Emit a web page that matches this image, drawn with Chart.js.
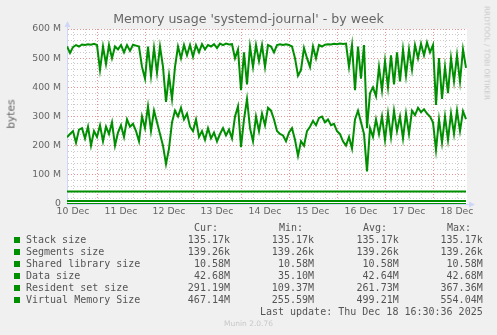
<!DOCTYPE html>
<html><head><meta charset="utf-8">
<script src="https://cdn.jsdelivr.net/npm/chart.js@4/dist/chart.umd.min.js"></script>
<style>
html,body{margin:0;padding:0;background:#f0f0f0;}
#wrap{position:relative;width:497px;height:335px;overflow:hidden;background:#f0f0f0;font-family:"DejaVu Sans",sans-serif;color:#666;}
#c{position:absolute;left:0;top:0;}
.t{position:absolute;white-space:pre;}
.mono{font-family:"DejaVu Sans Mono",monospace;font-size:10px;line-height:12px;color:#555;}
.sq{position:absolute;width:6px;height:6px;background:#008f00;}
</style></head>
<body><div id="wrap"><canvas id="c" width="497" height="335"></canvas>
<div class="t" style="left:0;width:497px;text-align:center;top:11px;font-size:12.6px;line-height:16px;">Memory usage 'systemd-journal' - by week</div>
<div class="t" style="left:10.5px;top:114px;font-size:10.7px;line-height:13px;transform:translate(-50%,-50%) rotate(-90deg);">bytes</div>
<div class="t" style="left:487px;top:52.5px;font-size:7.3px;line-height:9px;color:#c8c8c8;transform:translate(-50%,-50%) rotate(90deg);">RRDTOOL / TOBI OETIKER</div>
<div id="legend"></div>
<div class="t" style="left:0;width:497px;text-align:center;top:319px;font-size:7.5px;line-height:10px;color:#c8c8c8;">Munin 2.0.76</div>
</div>
<script>
// ---- data ----
const seriesNames = ['Stack size','Segments size','Shared library size','Data size','Resident set size','Virtual Memory Size'];
const curVals = ['135.17k','139.26k','10.58M','42.68M','291.19M','467.14M'];
const minVals = ['135.17k','139.26k','10.58M','35.10M','109.37M','255.59M'];
const avgVals = ['135.17k','139.26k','10.58M','42.64M','261.73M','499.21M'];
const maxVals = ['135.17k','139.26k','10.58M','42.68M','367.36M','554.04M'];
const lastUpdate = 'Last update: Thu Dec 18 16:30:36 2025';
const dayLabels = ['10 Dec','11 Dec','12 Dec','13 Dec','14 Dec','15 Dec','16 Dec','17 Dec','18 Dec'];
const yLabels = ['0','100 M','200 M','300 M','400 M','500 M','600 M'];

const startHour = 9;      // hours after 10 Dec 00:00
const endHour = 208.5;    // 18 Dec 16:30
const stepHours = 1.5;

const stackSize = 0.13517;      // M
const segmentsSize = 0.13926;   // M
const sharedLibSize = 10.58;    // M
const dataSize = 42.68;         // M

const vms = [
540,518,538,545,540,547,545,548,546,549,
545,460,540,480,545,500,540,530,545,520,
545,525,546,543,540,470,430,540,440,535,
450,540,470,350,440,360,470,540,500,545,
510,545,505,545,520,548,530,545,540,548,
535,550,545,550,547,548,500,530,390,520,
410,540,470,545,490,545,470,545,540,520,
545,548,545,548,545,540,500,440,460,535,
500,470,540,500,545,540,546,548,547,549,
548,550,549,550,470,545,390,540,430,545,
260,380,400,370,470,390,490,400,510,410,
520,420,530,440,530,460,545,500,550,510,
554,520,545,340,500,360,470,380,500,420,
510,420,530,467];

const rss = [
229,240,250,210,255,260,225,265,200,250,
230,270,215,265,240,280,200,245,270,230,
290,265,275,250,215,300,260,335,250,320,
280,240,200,137,190,280,320,300,330,290,
310,265,250,290,230,250,220,260,225,245,
215,240,260,235,255,225,300,335,195,290,
360,260,215,300,250,310,270,330,320,290,
250,240,235,215,245,260,220,165,215,200,
250,265,285,270,295,300,280,290,270,275,
250,240,215,200,230,190,290,320,280,240,
112,260,230,290,240,300,220,310,230,320,
250,300,225,310,240,320,305,330,315,325,
310,300,280,185,290,210,300,220,310,240,
320,250,318,291];

// ---- legend (HTML text) ----
const GREEN = '#008f00';
(function(){
  const lg = document.getElementById('legend');
  let h = '';
  const head = [['Cur:',194],['Min:',279],['Avg:',363],['Max:',447]];
  head.forEach(([t,l]) => { h += `<div class="t mono" style="left:${l}px;top:221.5px">${t}</div>`; });
  const cols = [[curVals,267],[minVals,183],[avgVals,98.3],[maxVals,14.3]];
  seriesNames.forEach((n,i) => {
    const cy = 239.5 + 12*i;
    h += `<div class="sq" style="left:14px;top:${cy-3}px"></div>`;
    h += `<div class="t mono" style="left:26px;top:${cy-6}px">${n}</div>`;
    cols.forEach(([arr,r]) => { h += `<div class="t mono" style="right:${r}px;top:${cy-6}px">${arr[i]}</div>`; });
  });
  h += `<div class="t mono" style="right:14.3px;top:305.5px">${lastUpdate}</div>`;
  lg.innerHTML = h;
})();

// ---- chart ----
const pts = arr => arr.map((v,i) => ({x: startHour + stepHours*i, y: v}));
const flat = v => [{x:startHour,y:v},{x:endHour,y:v}];

const RED = 'rgba(230,110,110,0.75)';
const GREY = 'rgba(190,190,190,0.8)';
const AXIS = '#CFD6F8';

const bgPlugin = {
  id:'bg',
  beforeDraw(chart){
    const {ctx, chartArea:a} = chart;
    ctx.save(); ctx.fillStyle = '#fff';
    ctx.fillRect(a.left, a.top, a.right-a.left, a.bottom-a.top);
    ctx.restore();
  },
  afterDraw(chart){
    const {ctx, chartArea:a} = chart;
    ctx.save();
    ctx.fillStyle = AXIS; ctx.strokeStyle = AXIS; ctx.lineWidth = 1;
    ctx.beginPath(); ctx.moveTo(a.left+0.5, a.top); ctx.lineTo(a.left+0.5, a.top-3); ctx.stroke();
    ctx.beginPath(); ctx.moveTo(a.left+0.5, a.top-8); ctx.lineTo(a.left-2.5, a.top-2); ctx.lineTo(a.left+3.5, a.top-2); ctx.closePath(); ctx.fill();
    ctx.beginPath(); ctx.moveTo(a.right, a.bottom+0.5); ctx.lineTo(a.right+2, a.bottom+0.5); ctx.stroke();
    ctx.beginPath(); ctx.moveTo(a.right+8, a.bottom+0.5); ctx.lineTo(a.right+2, a.bottom-2.5); ctx.lineTo(a.right+2, a.bottom+3.5); ctx.closePath(); ctx.fill();
    ctx.restore();
  }
};

const ds = (label, data) => ({label, data, borderColor: GREEN, backgroundColor: GREEN, borderWidth: 2, pointRadius: 0, tension: 0, fill: false});

new Chart(document.getElementById('c'), {
  type: 'line',
  data: { datasets: [
    ds(seriesNames[5], pts(vms)),
    ds(seriesNames[4], pts(rss)),
    ds(seriesNames[3], flat(dataSize)),
    ds(seriesNames[2], flat(sharedLibSize)),
    ds(seriesNames[1], flat(segmentsSize)),
    ds(seriesNames[0], flat(stackSize)),
  ]},
  options: {
    responsive: false, animation: false, devicePixelRatio: 1,
    layout: { padding: { left: 0, top: 29, right: 30, bottom: 111 } },
    plugins: { legend: {display:false}, title: {display:false}, tooltip: {enabled:false} },
    scales: {
      x: {
        type: 'linear', min: 9, max: 209,
        afterBuildTicks: s => { const t=[]; for (let h=12; h<=204; h+=6) t.push({value:h}); s.ticks = t; },
        afterFit: s => { s.height = 20; },
        ticks: { autoSkip:false, minRotation:0, maxRotation:0, padding: 2, color:'#666',
          font:{family:'DejaVu Sans', size:9.3},
          callback: v => (v % 24 === 12) ? dayLabels[(v-12)/24] : '' },
        grid: { drawTicks:false, lineWidth:1, color: c => (c.tick && c.tick.value % 24 === 0) ? RED : GREY },
        border: { display:true, color: AXIS, width:1, dash:[1,2] }
      },
      y: {
        min: 0, max: 600,
        afterBuildTicks: s => { const t=[]; for (let v=0; v<=600; v+=20) t.push({value:v}); s.ticks = t; },
        afterFit: s => { s.width = 67; },
        ticks: { autoSkip:false, padding: 6, color:'#666', font:{family:'DejaVu Sans', size:9.3},
          callback: v => (v % 100 === 0) ? yLabels[v/100] : '' },
        grid: { drawTicks:false, lineWidth:1, color: c => (c.tick && c.tick.value % 100 === 0 && c.tick.value>0) ? RED : GREY },
        border: { display:true, color: AXIS, width:1, dash:[1,2] }
      }
    }
  },
  plugins: [bgPlugin]
});
</script>
</body></html>
